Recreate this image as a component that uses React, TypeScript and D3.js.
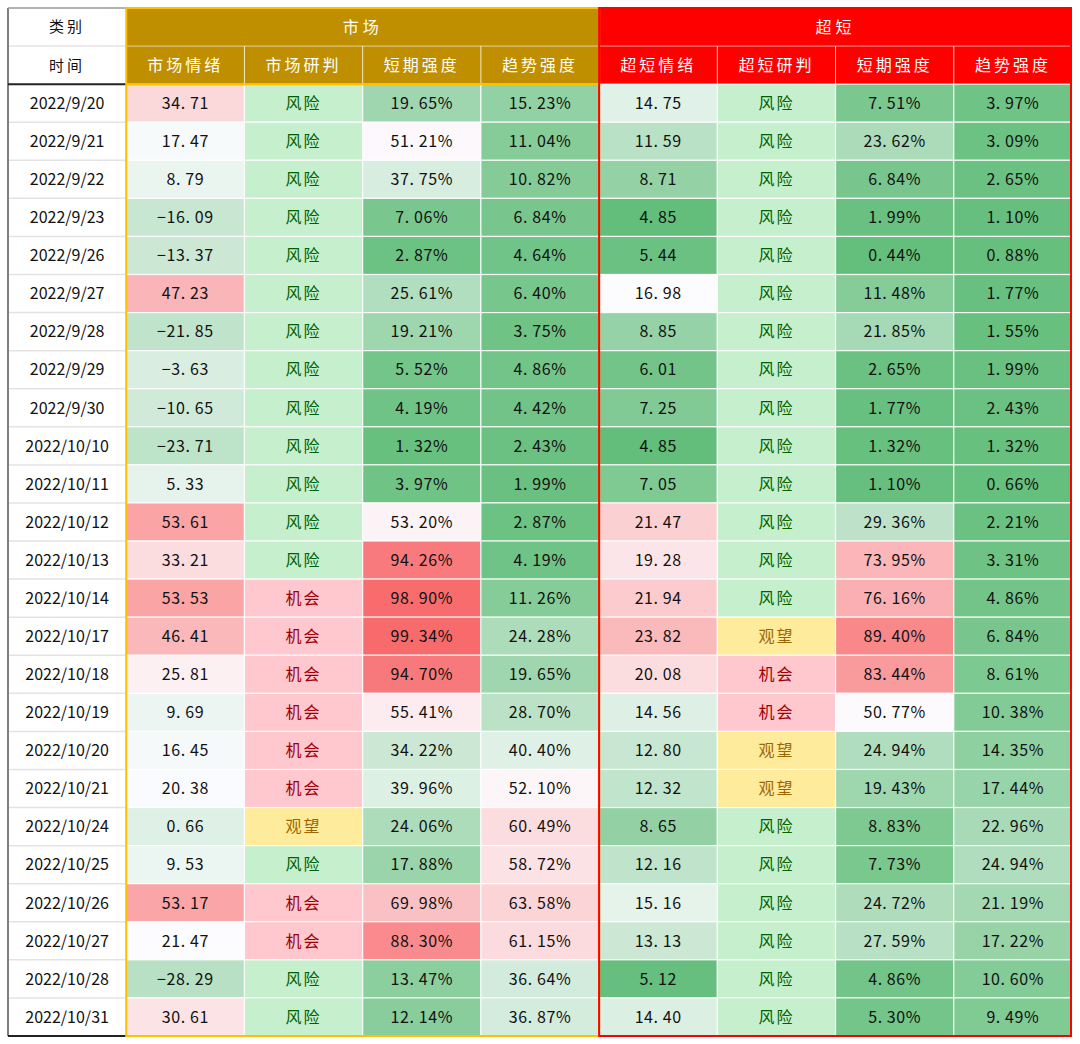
import React from "react";
import * as d3 from "d3";

const dates = ["2022/9/20","2022/9/21","2022/9/22","2022/9/23","2022/9/26","2022/9/27","2022/9/28","2022/9/29","2022/9/30","2022/10/10","2022/10/11","2022/10/12","2022/10/13","2022/10/14","2022/10/17","2022/10/18","2022/10/19","2022/10/20","2022/10/21","2022/10/24","2022/10/25","2022/10/26","2022/10/27","2022/10/28","2022/10/31"];
const marketSentiment = [34.71,17.47,8.79,-16.09,-13.37,47.23,-21.85,-3.63,-10.65,-23.71,5.33,53.61,33.21,53.53,46.41,25.81,9.69,16.45,20.38,0.66,9.53,53.17,21.47,-28.29,30.61];
const marketJudge = ["风险","风险","风险","风险","风险","风险","风险","风险","风险","风险","风险","风险","风险","机会","机会","机会","机会","机会","机会","观望","风险","机会","机会","风险","风险"];
const marketShort = [19.65,51.21,37.75,7.06,2.87,25.61,19.21,5.52,4.19,1.32,3.97,53.20,94.26,98.90,99.34,94.70,55.41,34.22,39.96,24.06,17.88,69.98,88.30,13.47,12.14];
const marketTrend = [15.23,11.04,10.82,6.84,4.64,6.40,3.75,4.86,4.42,2.43,1.99,2.87,4.19,11.26,24.28,19.65,28.70,40.40,52.10,60.49,58.72,63.58,61.15,36.64,36.87];
const ssSentiment = [14.75,11.59,8.71,4.85,5.44,16.98,8.85,6.01,7.25,4.85,7.05,21.47,19.28,21.94,23.82,20.08,14.56,12.80,12.32,8.65,12.16,15.16,13.13,5.12,14.40];
const ssJudge = ["风险","风险","风险","风险","风险","风险","风险","风险","风险","风险","风险","风险","风险","风险","观望","机会","机会","观望","观望","风险","风险","风险","风险","风险","风险"];
const ssShort = [7.51,23.62,6.84,1.99,0.44,11.48,21.85,2.65,1.77,1.32,1.10,29.36,73.95,76.16,89.40,83.44,50.77,24.94,19.43,8.83,7.73,24.72,27.59,4.86,5.30];
const ssTrend = [3.97,3.09,2.65,1.10,0.88,1.77,1.55,1.99,2.43,1.32,0.66,2.21,3.31,4.86,6.84,8.61,10.38,14.35,17.44,22.96,24.94,21.19,17.22,10.60,9.49];

const groups = ["市场", "超短"];
const subHeaders = ["市场情绪","市场研判","短期强度","趋势强度","超短情绪","超短研判","短期强度","趋势强度"];

const GREEN = "#63BE7B", WHITE = "#FCFCFF", RED = "#F8696B";
const scale3 = (lo: number, mid: number, hi: number) =>
  d3.scaleLinear<string>().domain([lo, mid, hi]).range([GREEN, WHITE, RED]).interpolate(d3.interpolateRgb).clamp(true);

const judgeStyle: Record<string, { bg: string; fg: string }> = {
  "风险": { bg: "#C6EFCE", fg: "#006100" },
  "机会": { bg: "#FFC7CE", fg: "#9C0006" },
  "观望": { bg: "#FFEB9C", fg: "#9C6500" },
};

type Col = { kind: "num" | "pct" | "cat"; values: (number | string)[]; color?: (v: number) => string };
const columns: Col[] = [
  { kind: "num", values: marketSentiment, color: scale3(-89, 21.5, 75) },
  { kind: "cat", values: marketJudge },
  { kind: "pct", values: marketShort, color: scale3(0, 50, 100) },
  { kind: "pct", values: marketTrend, color: scale3(0, 50, 100) },
  { kind: "num", values: ssSentiment, color: scale3(4.85, 16.95, 32) },
  { kind: "cat", values: ssJudge },
  { kind: "pct", values: ssShort, color: scale3(0, 50, 100) },
  { kind: "pct", values: ssTrend, color: scale3(0, 50, 100) },
];

const W = 1080, H = 1044;
const L = 8, R = 1072, T = 8, B = 1036;
const x = d3.scaleBand<number>().domain(d3.range(9)).range([L, R]);
const y = d3.scaleBand<number>().domain(d3.range(dates.length + 2)).range([T, B]);
const cw = x.bandwidth(), rh = y.bandwidth();

const FONT = "'Noto Sans CJK SC', 'Noto Sans', sans-serif";

const fmt = (v: number, pct: boolean) => {
  const s = Math.abs(v).toFixed(2).replace(".", ". ");
  return (v < 0 ? "−" : "") + s + (pct ? "%" : "");
};

export default function App() {
  const hx0 = x(1)!, hmid = x(5)!;
  return (
    <svg width={W} height={H} style={{ position: "absolute", left: 0, top: 0, background: "#fff" }} fontFamily={FONT}>
      <rect x={hx0} y={T} width={hmid - hx0} height={rh * 2} fill="#BF8F00" />
      <rect x={hmid} y={T} width={R - hmid} height={rh * 2} fill="#FF0000" />
      {groups.map((g, i) => (
        <text key={g} x={i === 0 ? (hx0 + hmid) / 2 : (hmid + R) / 2} y={y(0)! + rh / 2} dy="0.36em"
          textAnchor="middle" fill="#fff" fontSize={16} letterSpacing={4}>{g}</text>
      ))}
      <line x1={hx0} x2={R} y1={y(1)!} y2={y(1)!} stroke="#ffffff" strokeOpacity={0.6} strokeWidth={1} />
      {subHeaders.map((s, i) => (
        <g key={i}>
          {i > 0 && <line x1={x(i + 1)!} x2={x(i + 1)!} y1={y(1)!} y2={y(2)!} stroke="#fff" strokeOpacity={0.8} strokeWidth={1} />}
          <text x={x(i + 1)! + cw / 2} y={y(1)! + rh / 2} dy="0.36em" textAnchor="middle" fill="#fff" fontSize={16} letterSpacing={3}>{s}</text>
        </g>
      ))}
      <text x={x(0)! + cw / 2} y={y(0)! + rh / 2} dy="0.36em" textAnchor="middle" fill="#111" fontSize={15} letterSpacing={3}>类别</text>
      <line x1={L} x2={hx0} y1={y(1)!} y2={y(1)!} stroke="#e3e3e3" strokeWidth={1.5} />
      <text x={x(0)! + cw / 2} y={y(1)! + rh / 2} dy="0.36em" textAnchor="middle" fill="#111" fontSize={15} letterSpacing={3}>时间</text>

      {dates.map((d, r) => {
        const ry = y(r + 2)!;
        return (
          <g key={d}>
            {r > 0 && <line x1={L} x2={hx0} y1={ry} y2={ry} stroke="#e3e3e3" strokeWidth={1.5} />}
            <text x={x(0)! + cw / 2} y={ry + rh / 2} dy="0.36em" textAnchor="middle" fill="#111" fontSize={16}>{d}</text>
            {columns.map((c, ci) => {
              const v = c.values[r];
              let bg: string, fg = "#111", label: string;
              if (c.kind === "cat") {
                const st = judgeStyle[v as string];
                bg = st.bg; fg = st.fg; label = v as string;
              } else {
                bg = c.color!(v as number);
                label = fmt(v as number, c.kind === "pct");
              }
              return (
                <g key={ci}>
                  <rect x={x(ci + 1)!} y={ry} width={cw} height={rh} fill={bg} stroke="#ffffff" strokeOpacity={0.85} strokeWidth={1.2} />
                  <text x={x(ci + 1)! + cw / 2} y={ry + rh / 2} dy="0.36em" textAnchor="middle" fill={fg}
                    fontSize={16} letterSpacing={c.kind === "cat" ? 2 : 0.6} style={{ whiteSpace: "pre" }}>{label}</text>
                </g>
              );
            })}
          </g>
        );
      })}

      <line x1={L} x2={L} y1={T} y2={B} stroke="#7f7f7f" strokeWidth={2} />
      <line x1={L} x2={hx0} y1={T} y2={T} stroke="#9a9a9a" strokeWidth={1.5} />
      <line x1={L} x2={hx0} y1={y(2)!} y2={y(2)!} stroke="#222" strokeWidth={2} />
      <line x1={L} x2={hx0} y1={B} y2={B} stroke="#222" strokeWidth={2} />
      <line x1={hx0} x2={hmid} y1={y(2)!} y2={y(2)!} stroke="#FFC000" strokeWidth={2} />
      <rect x={hx0} y={T} width={hmid - hx0} height={B - T} fill="none" stroke="#FFC000" strokeWidth={2} />
      <rect x={hmid} y={T} width={R - hmid - 1} height={B - T} fill="none" stroke="#FF0000" strokeWidth={2} />
    </svg>
  );
}
